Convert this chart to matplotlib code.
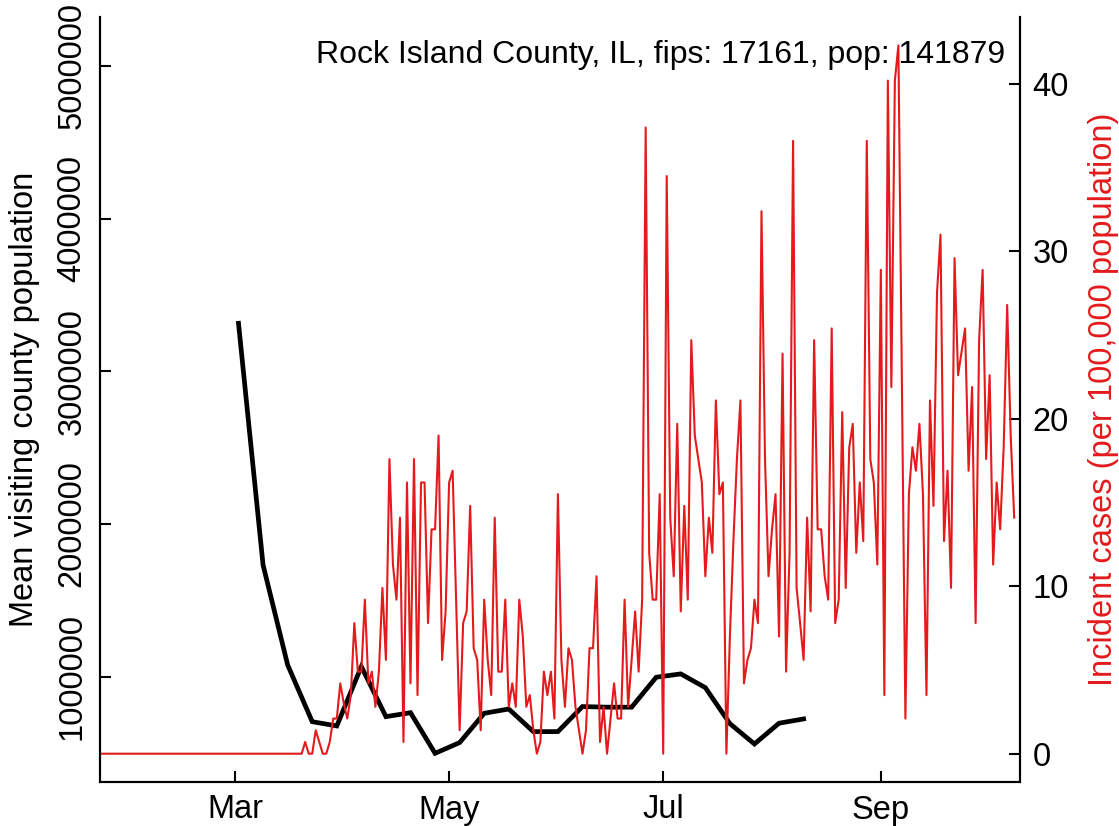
import matplotlib
matplotlib.use("Agg")
import matplotlib.pyplot as plt
import pandas as pd

plt.rcParams['font.family'] = ['Liberation Sans', 'DejaVu Sans']

# incident cases per 100,000 population, daily from 2020-01-22
cases_early = [0.0] * 59  # Jan 22 - Mar 20: no cases
cases = [
    0.7, 0.0, 0.0, 1.4, 0.7, 0.0, 0.0, 0.7, 2.1, 2.1,
    4.2, 3.0, 2.1, 3.5, 7.8, 4.9, 4.9, 9.2, 4.2, 4.9,
    2.8, 4.9, 9.9, 5.6, 17.6, 11.3, 9.2, 14.1, 0.7, 16.2,
    4.2, 17.6, 3.5, 16.2, 16.2, 7.8, 13.4, 13.4, 19.0, 5.6,
    8.5, 16.2, 16.9, 9.2, 1.4, 7.8, 8.5, 14.8, 6.3, 5.6,
    1.4, 9.2, 5.6, 3.5, 14.1, 4.9, 4.9, 9.2, 2.8, 4.2,
    2.8, 9.2, 7.0, 2.8, 3.5, 1.4, 0.0, 0.7, 4.9, 3.5,
    4.9, 2.1, 15.5, 5.6, 2.8, 6.3, 5.6, 2.8, 1.4, 0.0,
    1.4, 6.3, 6.3, 10.6, 0.7, 2.8, 0.0, 2.1, 4.2, 2.1,
    2.1, 9.2, 2.8, 5.6, 8.5, 4.9, 9.2, 37.4, 12.0, 9.2,
    9.2, 15.5, 0.0, 34.5, 14.1, 10.6, 19.7, 8.5, 14.8, 9.2,
    24.7, 19.0, 17.6, 16.2, 10.6, 14.1, 12.0, 21.1, 15.5, 16.2,
    0.0, 7.0, 12.7, 17.6, 21.1, 4.2, 5.6, 6.3, 9.2, 7.8,
    32.4, 17.6, 10.6, 13.4, 15.5, 7.0, 23.9, 4.9, 12.0, 36.6,
    9.9, 7.8, 5.6, 14.1, 8.5, 24.7, 13.4, 13.4, 10.6, 9.2,
    25.4, 7.8, 9.2, 20.4, 9.9, 18.3, 19.7, 12.0, 16.2, 12.7,
    36.6, 17.6, 16.2, 11.3, 28.9, 3.5, 40.2, 21.9, 40.2, 42.3,
    22.0, 2.1, 15.5, 18.3, 16.9, 19.7, 15.5, 3.5, 21.1, 14.8,
    27.5, 31.0, 12.7, 16.9, 9.9, 29.6, 22.6, 24.0, 25.4, 16.9,
    21.9, 7.8, 24.7, 28.9, 17.6, 22.6, 11.3, 16.2, 13.4, 18.3,
    26.8, 19.0, 14.1,
]
cases_all = cases_early + cases
case_dates = pd.date_range("2020-01-22", periods=len(cases_all), freq="D")

# mean visiting county population, weekly from 2020-03-02
visit_pop = [
    3314000, 1731000, 1077000, 705000, 677000, 1066000, 738000, 764000,
    498000, 568000, 760000, 788000, 640000, 640000, 804000, 800000,
    800000, 996000, 1018000, 928000, 692000, 559000, 695000, 723000,
]
visit_dates = pd.date_range("2020-03-02", periods=len(visit_pop), freq="7D")

tick_dates = pd.to_datetime(["2020-03-01", "2020-05-01", "2020-07-01", "2020-09-01"])
tick_labels = ["Mar", "May", "Jul", "Sep"]
left_ticks = [1000000, 2000000, 3000000, 4000000, 5000000]
right_ticks = [0, 10, 20, 30, 40]

fs = 23.5
red = "#E41A1C"

fig = plt.figure(figsize=(11.19, 8.26), dpi=100)
ax = fig.add_axes([100 / 1119, 44 / 826, 920 / 1119, 765 / 826])

ax.plot(visit_dates, visit_pop, color="black", linewidth=3.4, solid_joinstyle="miter")
ax.set_ylim(310000, 5320000)
ax.set_yticks(left_ticks)
ax.set_yticklabels([str(v) for v in left_ticks], rotation=90, va="center")
ax.set_ylabel("Mean visiting county population", fontsize=fs, labelpad=12)

x0 = pd.Timestamp("2020-03-01")
ax.set_xlim(x0 - pd.Timedelta(days=38.46), x0 + pd.Timedelta(days=223.65))
ax.set_xticks(tick_dates)
ax.set_xticklabels(tick_labels)

ax2 = ax.twinx()
ax2.plot(case_dates, cases_all, color=red, linewidth=1.5)
ax2.set_ylim(-1.69, 44.0)
ax2.set_yticks(right_ticks)
ax2.set_ylabel("Incident cases (per 100,000 population)", fontsize=fs, color=red, labelpad=14)
ax2.set_xlim(ax.get_xlim())

for a in (ax, ax2):
    a.spines["top"].set_visible(False)
    for s in a.spines.values():
        s.set_linewidth(1.5)
    a.tick_params(direction="in", length=8, width=1.5, labelsize=fs, pad=9)

ax2.text(0.984, 0.95, "Rock Island County, IL, fips: 17161, pop: 141879",
         transform=ax2.transAxes, ha="right", va="center", fontsize=23)

fig.savefig("out.png", dpi=100)
